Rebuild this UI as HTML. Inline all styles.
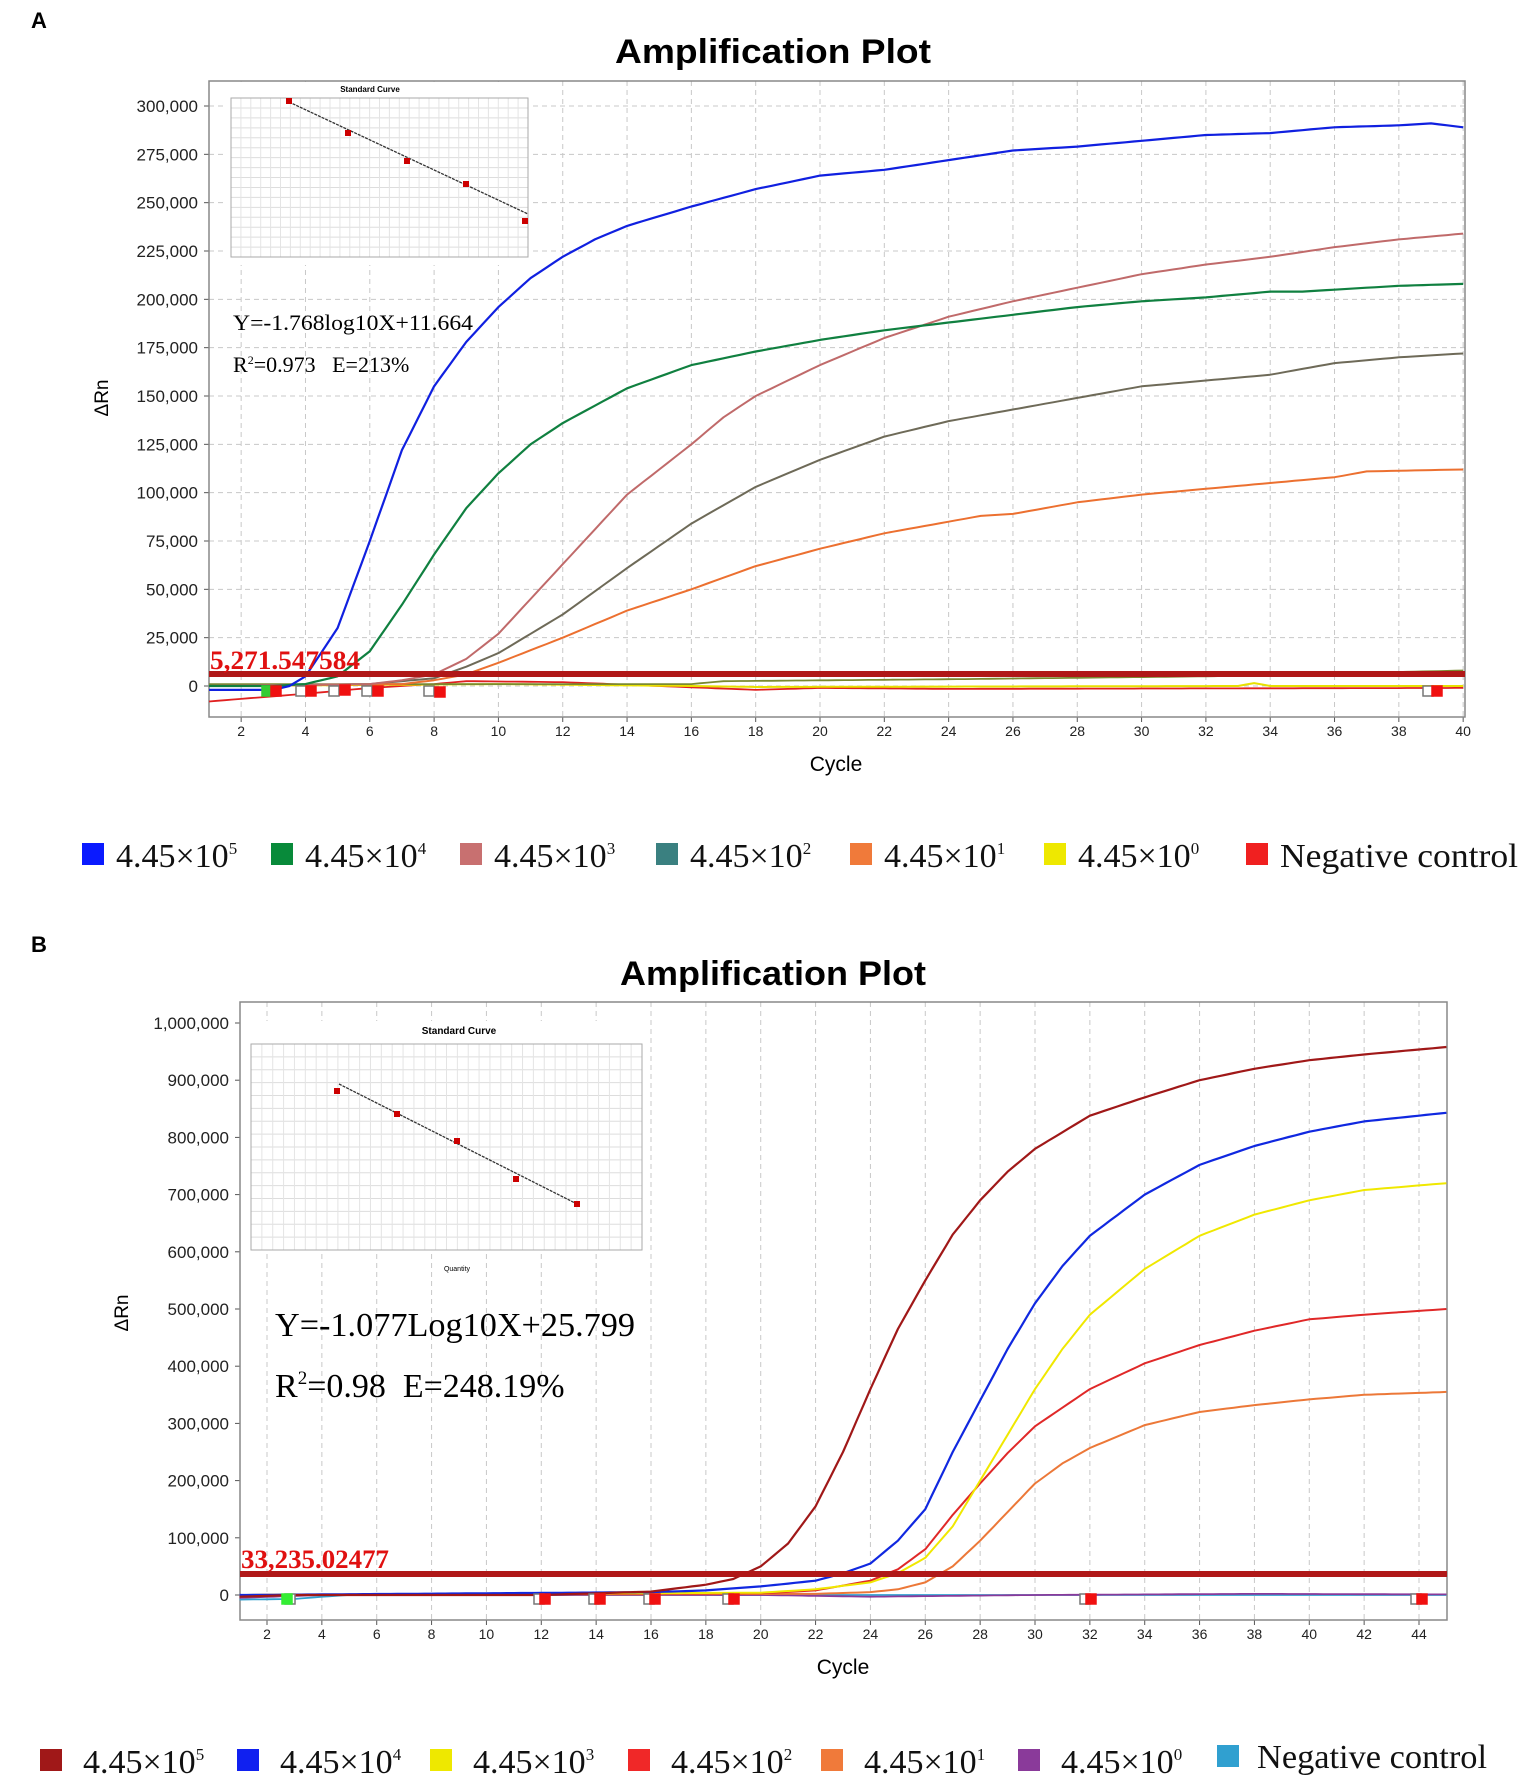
<!DOCTYPE html>
<html><head><meta charset="utf-8"><style>
body{margin:0;background:#fff;width:1535px;height:1781px;overflow:hidden;position:relative;font-family:"Liberation Sans",sans-serif}
svg{position:absolute;left:0;top:0}
</style></head><body>
<svg id="s" width="1535" height="1781" xmlns="http://www.w3.org/2000/svg"></svg>
<script>
const S=document.getElementById('s');let out='';
function t(x,y,str,o){o=o||{};out+=`<text x="${x}" y="${y}" font-family="${o.f||'Liberation Sans, sans-serif'}" font-size="${o.s||16}" fill="${o.c||'#000'}" text-anchor="${o.a||'start'}" font-weight="${o.w||'normal'}" ${o.extra||''}>${str}</text>`;}
function interp(pts,x){if(x<=pts[0][0])return pts[0][1];for(let i=1;i<pts.length;i++){if(x<=pts[i][0]){const[a,b]=pts[i-1],[c,d]=pts[i];return b+(d-b)*(x-a)/(c-a);}}return pts[pts.length-1][1];}
function curve(P,pts,col,w){let d='';const x0=P.c0,x1=P.c1;for(let c=x0;c<=x1+1e-6;c+=0.25){const v=interp(pts,c);const X=P.X(c),Y=P.Y(v);d+=(d?'L':'M')+X.toFixed(1)+' '+Y.toFixed(1);}out+=`<path d="${d}" fill="none" stroke="${col}" stroke-width="${w||2}" stroke-linejoin="round"/>`;}
function sq(x,y,fill){out+=`<rect x="${x-5}" y="${y-5}" width="10" height="10" fill="${fill}" stroke="${fill=='#fff'?'#777':fill}" stroke-width="1.5"/>`;}
function panel(P){
 for(let c=2;c<=P.c1;c+=2){const X=P.X(c);out+=`<line x1="${X}" y1="${P.top}" x2="${X}" y2="${P.bot}" stroke="#c8c8c8" stroke-dasharray="5,4"/>`;
  t(X,P.bot+19,c,{s:14,a:'middle',c:'#222'});
  out+=`<line x1="${X}" y1="${P.bot}" x2="${X}" y2="${P.bot+5}" stroke="#555"/>`;}
 P.yt.forEach(([v,l])=>{const Y=P.Y(v);if(P.hgrid)out+=`<line x1="${P.l}" y1="${Y}" x2="${P.r}" y2="${Y}" stroke="#c8c8c8" stroke-dasharray="5,4"/>`;
  t(P.l-11,Y+6,l,{s:17,a:'end',c:'#222'});out+=`<line x1="${P.l-5}" y1="${Y}" x2="${P.l}" y2="${Y}" stroke="#555"/>`;});
 out+=`<rect x="${P.l}" y="${P.top}" width="${P.r-P.l}" height="${P.bot-P.top}" fill="none" stroke="#888" stroke-width="1.5"/>`;
}
const A={l:209,r:1465,top:81,bot:717,c0:1,c1:40,hgrid:true};
A.X=c=>209+(c-1)*(1463-241)/38;A.Y=v=>686-v*(686-106)/300;
A.yt=[];for(let v=0;v<=300;v+=25)A.yt.push([v,v==0?'0':(v+',000')]);
t(31,28,'A',{s:22,w:'bold'});
t(773,63,'Amplification Plot',{s:34,w:'bold',a:'middle',extra:'textLength="316" lengthAdjust="spacingAndGlyphs"'});
panel(A);
out+=`<rect x="224" y="82" width="306" height="183" fill="#fff"/>`;
for(let i=0;i<=16;i++){const y=98+i*(257-98)/16;out+=`<line x1="231" y1="${y}" x2="528" y2="${y}" stroke="#ddd"/>`;}
for(let i=0;i<=30;i++){const x=231+i*(528-231)/30;out+=`<line x1="${x}" y1="98" x2="${x}" y2="257" stroke="#e4e4e4"/>`;}
out+=`<rect x="231" y="98" width="297" height="159" fill="none" stroke="#aaa"/>`;
t(370,92,'Standard Curve',{s:8,w:'bold',a:'middle'});
out+=`<line x1="289" y1="102" x2="528" y2="214" stroke="#333" stroke-dasharray="3,1" stroke-width="1.3"/>`;
[[289,101],[348,133],[407,161],[466,184],[525,221]].forEach(p=>out+=`<rect x="${p[0]-3}" y="${p[1]-3}" width="6" height="6" fill="#c00"/>`);
t(233,330,'Y=-1.768log10X+11.664',{s:22,f:'Liberation Serif, serif',extra:'textLength="240" lengthAdjust="spacingAndGlyphs"'});
t(233,372,'R<tspan font-size="12" dy="-8">2</tspan><tspan dy="8">=0.973 &#160;&#160;E=213%</tspan>',{s:22,f:'Liberation Serif, serif'});
t(102,398,'ΔRn',{s:19,a:'middle',extra:'transform="rotate(-90 102 398)" dy="6"'});
t(836,771,'Cycle',{s:21,a:'middle'});
curve(A,[[1,-8],[4,-4],[6,-1],[8,1],[9,2.5],[12,2],[15,0],[18,-2],[20,-1],[24,-1.5],[40,-1]],'#e02020',1.8);
curve(A,[[1,0],[10,1],[16,0],[18,-0.5],[33,0],[33.5,1.5],[34,0],[40,0]],'#e8e000',2);
curve(A,[[1,1],[10,1],[16,1],[17,2.5],[24,3.5],[32,5],[40,8]],'#7a8a30',1.8);
curve(A,[[1,0],[6,1],[8,4],[9,10],[10,17],[12,37],[14,61],[16,84],[18,103],[20,117],[22,129],[24,137],[26,143],[28,149],[30,155],[34,161],[36,167],[38,170],[40,172]],'#6e6a58',2);
curve(A,[[1,0],[7,1],[8,3],[9,6],[10,12],[12,25],[14,39],[16,50],[18,62],[20,71],[22,79],[24,85],[25,88],[26,89],[28,95],[30,99],[32,102],[34,105],[36,108],[37,111],[40,112]],'#ec7030',2);
curve(A,[[1,0],[6,1],[7,3],[8,6],[9,14],[10,27],[11,45],[12,63],[14,99],[16,125],[17,139],[18,150],[20,166],[22,180],[24,191],[26,199],[28,206],[30,213],[32,218],[34,222],[36,227],[38,231],[40,234]],'#c06a6a',2);
curve(A,[[1,0],[3,0],[4,1],[5,5],[6,18],[7,42],[8,68],[9,92],[10,110],[11,125],[12,136],[14,154],[16,166],[18,173],[20,179],[22,184],[24,188],[26,192],[28,196],[30,199],[32,201],[34,204],[35,204],[36,205],[38,207],[40,208]],'#108040',2.2);
curve(A,[[1,-2],[3,-2],[3.5,0],[4,5],[5,30],[6,75],[7,122],[8,155],[9,178],[10,196],[11,211],[12,222],[13,231],[14,238],[16,248],[18,257],[20,264],[22,267],[24,272],[26,277],[28,279],[30,282],[32,285],[34,286],[36,289],[38,290],[39,291],[40,289]],'#1020e0',2.2);
out+=`<rect x="209" y="671" width="1256" height="6" fill="#b01818"/>`;
t(210,669,'5,271.547584',{s:26,w:'bold',c:'#e01010',f:'Liberation Serif, serif',extra:'textLength="150" lengthAdjust="spacingAndGlyphs"'});
[[267,'#3c3'],[301,'#fff'],[334,'#fff'],[367,'#fff'],[429,'#fff'],[1428,'#fff']].forEach(([x,c])=>sq(x,691,c));
[[276,691],[311,691],[345,690],[378,691],[440,692],[1437,691]].forEach(([x,y])=>sq(x,y,'#f01010'));
const LA=[[82,'#0a1aff','4.45×10<tspan font-size="17" dy="-13">5</tspan>'],[271,'#088a3a','4.45×10<tspan font-size="17" dy="-13">4</tspan>'],[460,'#c87070','4.45×10<tspan font-size="17" dy="-13">3</tspan>'],[656,'#3a8080','4.45×10<tspan font-size="17" dy="-13">2</tspan>'],[850,'#f07a3a','4.45×10<tspan font-size="17" dy="-13">1</tspan>'],[1044,'#eee800','4.45×10<tspan font-size="17" dy="-13">0</tspan>'],[1246,'#f02020','Negative control']];
LA.forEach(([x,c,l],i)=>{out+=`<rect x="${x}" y="843" width="22" height="22" fill="${c}"/>`;t(x+34,867,l,{s:34,f:'Liberation Serif, serif',c:'#111',extra:i==6?'textLength="238" lengthAdjust="spacingAndGlyphs"':''});});
const B={l:240,r:1447,top:1002,bot:1620,c0:1,c1:45,hgrid:false};
B.X=c=>267+(c-2)*(1419-267)/42;B.Y=v=>1595-v*(1595-1023)/1000;
B.yt=[];for(let v=0;v<=1000;v+=100)B.yt.push([v,v==0?'0':v==1000?'1,000,000':(v+',000')]);
t(31,952,'B',{s:22,w:'bold'});
t(773,985,'Amplification Plot',{s:34,w:'bold',a:'middle',extra:'textLength="306" lengthAdjust="spacingAndGlyphs"'});
B.c1=44;panel(B);B.c1=45;
out+=`<rect x="248" y="1021" width="394" height="233" fill="#fff"/>`;
for(let i=0;i<=16;i++){const y=1044+i*(1250-1044)/16;out+=`<line x1="251" y1="${y}" x2="642" y2="${y}" stroke="#ddd"/>`;}
for(let i=0;i<=36;i++){const x=251+i*(642-251)/36;out+=`<line x1="${x}" y1="1044" x2="${x}" y2="1250" stroke="#e4e4e4"/>`;}
out+=`<rect x="251" y="1044" width="391" height="206" fill="none" stroke="#aaa"/>`;
t(459,1034,'Standard Curve',{s:10,w:'bold',a:'middle'});
t(457,1271,'Quantity',{s:7,a:'middle'});
out+=`<line x1="339" y1="1084" x2="577" y2="1204" stroke="#333" stroke-dasharray="3,1" stroke-width="1.3"/>`;
[[337,1091],[397,1114],[457,1141],[516,1179],[577,1204]].forEach(p=>out+=`<rect x="${p[0]-3}" y="${p[1]-3}" width="6" height="6" fill="#c00"/>`);
t(275,1336,'Y=-1.077Log10X+25.799',{s:34,f:'Liberation Serif, serif',extra:'textLength="360" lengthAdjust="spacingAndGlyphs"'});
t(275,1397,'R<tspan font-size="19" dy="-13">2</tspan><tspan dy="13">=0.98 &#160;E=248.19%</tspan>',{s:34,f:'Liberation Serif, serif'});
t(122,1313,'ΔRn',{s:19,a:'middle',extra:'transform="rotate(-90 122 1313)" dy="6"'});
t(843,1674,'Cycle',{s:21,a:'middle'});
curve(B,[[1,-8],[3,-7],[4,-3],[5,0],[45,0]],'#30a0d0',1.8);
curve(B,[[1,-5],[4,0],[10,0],[20,0],[24,-3],[30,0],[38,2],[45,1]],'#8a3a9a',1.8);
curve(B,[[1,0],[22,2],[24,5],[25,10],[26,22],[27,50],[28,95],[29,145],[30,195],[31,230],[32,257],[34,297],[36,320],[38,332],[40,342],[42,350],[45,355]],'#ec7838',2);
curve(B,[[1,0],[20,3],[22,8],[24,25],[25,45],[26,80],[27,140],[28,195],[29,248],[30,295],[32,360],[34,405],[36,437],[38,462],[40,482],[42,490],[45,500]],'#e02828',2);
curve(B,[[1,0],[20,4],[22,10],[24,22],[25,38],[26,65],[27,120],[28,200],[29,280],[30,360],[31,430],[32,490],[34,570],[36,628],[38,665],[40,690],[42,708],[45,720]],'#f0e800',2);
curve(B,[[1,0],[16,5],[18,8],[20,15],[22,25],[23,38],[24,55],[25,95],[26,150],[27,250],[28,340],[29,430],[30,510],[31,575],[32,628],[34,700],[36,752],[38,785],[40,810],[42,828],[45,843]],'#1028e0',2.2);
curve(B,[[1,-3],[3,0],[12,0],[14,3],[16,6],[18,18],[19,28],[20,50],[21,90],[22,155],[23,250],[24,360],[25,465],[26,550],[27,630],[28,690],[29,740],[30,780],[32,838],[34,870],[36,900],[38,920],[40,935],[42,945],[45,958]],'#a01818',2.2);
out+=`<rect x="240" y="1571" width="1207" height="6" fill="#b01818"/>`;
t(241,1568,'33,235.02477',{s:26,w:'bold',c:'#e01010',f:'Liberation Serif, serif',extra:'textLength="148" lengthAdjust="spacingAndGlyphs"'});
sq(290,1599,'#fff');sq(287,1599,'#3e3');
[539,594,649,728,1085,1416].forEach(x=>{sq(x,1599,'#fff');sq(x+6,1599,'#f01010');});
const LB=[[40,'#a01818','5'],[237,'#1020f0','4'],[430,'#eee800','3'],[628,'#f02828','2'],[821,'#f07a3a','1'],[1018,'#8a3a9a','0']];
LB.forEach(([x,c,e])=>{out+=`<rect x="${x}" y="1749" width="22" height="22" fill="${c}"/>`;t(x+43,1773,'4.45×10<tspan font-size="17" dy="-13">'+e+'</tspan>',{s:34,f:'Liberation Serif, serif',c:'#111'});});
out+=`<rect x="1217" y="1745" width="22" height="22" fill="#30a0d0"/>`;t(1257,1768,'Negative control',{s:34,f:'Liberation Serif, serif',c:'#111',extra:'textLength="230" lengthAdjust="spacingAndGlyphs"'});
S.innerHTML=out;
</script>
</body></html>
